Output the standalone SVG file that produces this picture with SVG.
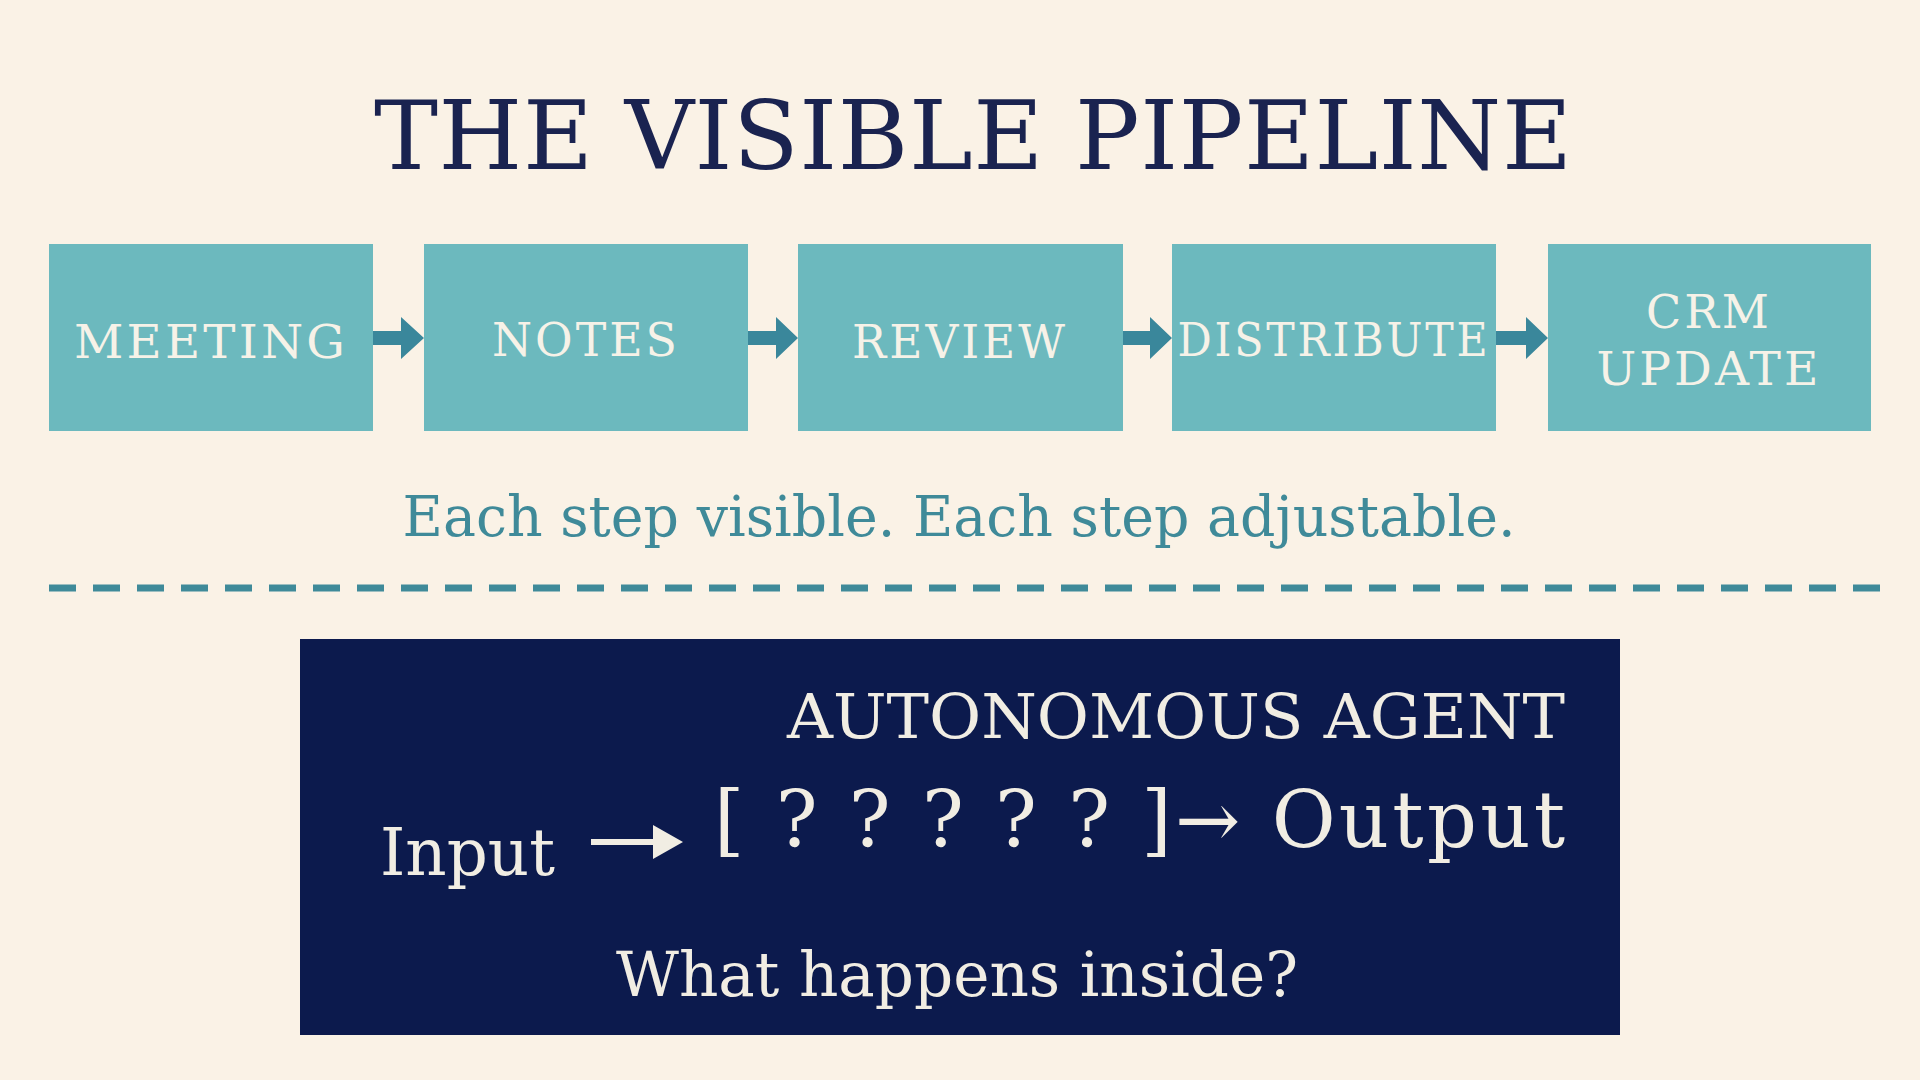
<svg xmlns="http://www.w3.org/2000/svg" width="1920" height="1080" viewBox="0 0 1920 1080">
<defs>
<style>
text{font-family:"DejaVu Serif","Liberation Serif",serif}
.box{fill:#6cb9be}
.bt{fill:#f6f2e8;font-size:46px;text-anchor:middle;letter-spacing:3px}
.ar{fill:#3a879b}
.lt{fill:#f1ede3}
</style>
</defs>
<rect width="1920" height="1080" fill="#faf2e6"/>
<text x="973" y="169" font-size="96" fill="#1a2350" text-anchor="middle" textLength="1198" lengthAdjust="spacing">THE VISIBLE PIPELINE</text>
<g id="meeting"><rect class="box" x="49" y="244" width="324" height="187"/><text class="bt" x="211" y="358" textLength="274" lengthAdjust="spacingAndGlyphs">MEETING</text></g>
<g id="notes"><rect class="box" x="424" y="244" width="324" height="187"/><text class="bt" x="586" y="356" textLength="188" lengthAdjust="spacingAndGlyphs">NOTES</text></g>
<g id="review"><rect class="box" x="798" y="244" width="325" height="187"/><text class="bt" x="960" y="358" textLength="216" lengthAdjust="spacingAndGlyphs">REVIEW</text></g>
<g id="distribute"><rect class="box" x="1172" y="244" width="324" height="187"/><text class="bt" x="1334" y="356" textLength="313" lengthAdjust="spacingAndGlyphs">DISTRIBUTE</text></g>
<g id="crm"><rect class="box" x="1548" y="244" width="323" height="187"/><text class="bt" x="1709" y="328" textLength="126" lengthAdjust="spacingAndGlyphs">CRM</text><text class="bt" x="1709" y="385" textLength="225" lengthAdjust="spacingAndGlyphs">UPDATE</text></g>
<g id="connectors">
<path class="ar" d="M373 331h28v-14l23 21-23 21v-14h-28z"/>
<path class="ar" d="M748 331h28v-14l22 21-22 21v-14h-28z"/>
<path class="ar" d="M1123 331h27v-14l22 21-22 21v-14h-27z"/>
<path class="ar" d="M1496 331h30v-14l22 21-22 21v-14h-30z"/>
</g>
<text x="959" y="536" font-size="56" fill="#3f8a99" text-anchor="middle" textLength="1113" lengthAdjust="spacingAndGlyphs">Each step visible. Each step adjustable.</text>
<line x1="49" y1="588" x2="1880" y2="588" stroke="#3f8a99" stroke-width="7" stroke-dasharray="27 17"/>
<g id="agent">
<rect x="300" y="639" width="1320" height="396" fill="#0c1a4d"/>
<text class="lt" x="1565" y="738" font-size="62" text-anchor="end" textLength="778" lengthAdjust="spacingAndGlyphs">AUTONOMOUS AGENT</text>
<text class="lt" x="380" y="875" font-size="66" textLength="175" lengthAdjust="spacingAndGlyphs">Input</text>
<path class="lt" d="M591 839h62v-14l30 17-30 17v-14h-62z"/>
<text class="lt" x="714" y="847" font-size="78" textLength="851" lengthAdjust="spacing">[ ? ? ? ? ? ]→ Output</text>
<text class="lt" x="957" y="996" font-size="62" text-anchor="middle" textLength="682" lengthAdjust="spacingAndGlyphs">What happens inside?</text>
</g>
</svg>
